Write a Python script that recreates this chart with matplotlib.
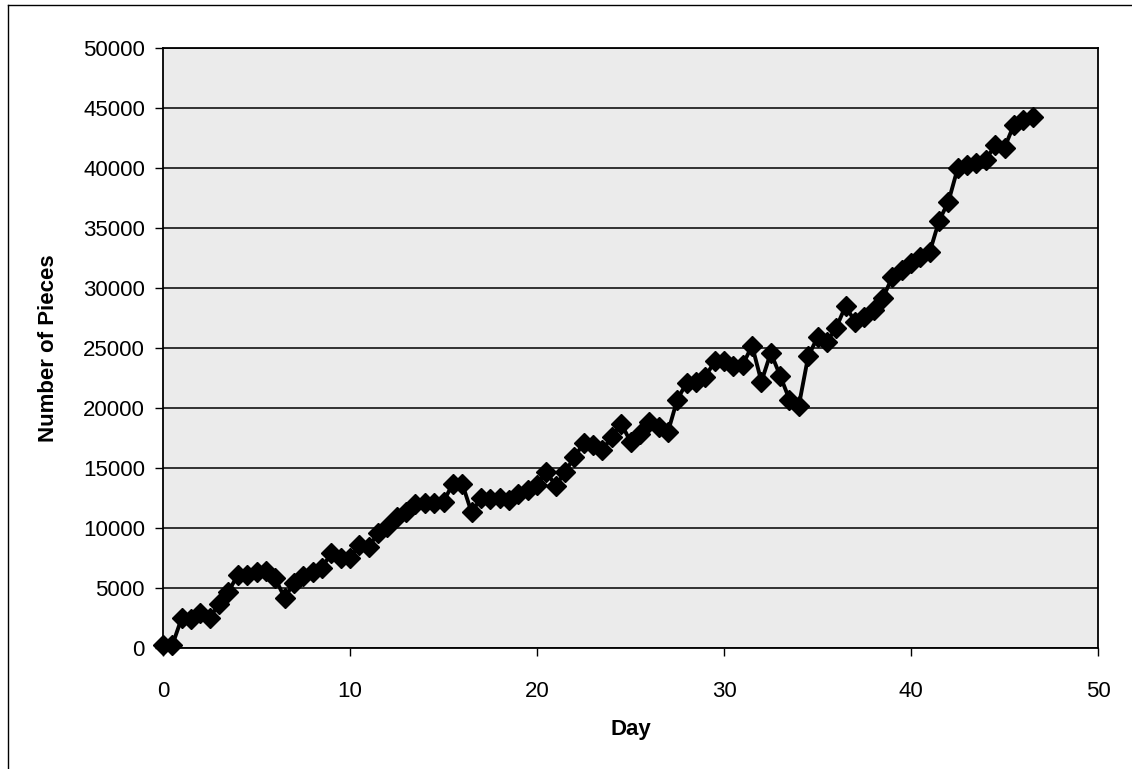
import numpy as np
import matplotlib.pyplot as plt
from matplotlib.lines import Line2D

plt.rcParams['font.family'] = ['Liberation Sans', 'DejaVu Sans']

# counts taken twice a day
day = np.arange(0, 47, 0.5)
pieces = [250, 250, 2500, 2400, 2900, 2500, 3700, 4700, 6100, 6100,
          6300, 6400, 5800, 4200, 5400, 6000, 6300, 6700, 7900, 7500,
          7500, 8600, 8400, 9600, 10100, 10900, 11300, 12000, 12100, 12100,
          12200, 13700, 13700, 11300, 12500, 12400, 12500, 12300, 12800, 13200,
          13600, 14700, 13500, 14700, 15900, 17100, 16900, 16500, 17600, 18700,
          17200, 17800, 18800, 18400, 18000, 20700, 22100, 22200, 22600, 23900,
          23900, 23500, 23600, 25200, 22200, 24600, 22700, 20700, 20200, 24300,
          25900, 25500, 26700, 28500, 27200, 27600, 28200, 29200, 30900, 31500,
          32100, 32600, 33000, 35600, 37200, 40000, 40250, 40400, 40700, 41900,
          41700, 43600, 44000, 44250]

fig = plt.figure(figsize=(11.32, 7.69), dpi=100)
ax = fig.add_axes([0.144, 0.1573, 0.826, 0.7803])
ax.set_facecolor('#ebebeb')

ax.plot(day, pieces, color='black', lw=2.8, marker='D', ms=10,
        markerfacecolor='black', markeredgecolor='black', clip_on=False, zorder=3)

ax.set_xlim(0, 50)
ax.set_ylim(0, 50000)
ax.set_xticks(np.arange(0, 51, 10))
ax.set_yticks(np.arange(0, 50001, 5000))
ax.yaxis.grid(True, color='black', lw=1.1)
ax.set_axisbelow(True)
for s in ax.spines.values():
    s.set_color('black')
    s.set_linewidth(1.3)
ax.tick_params(axis='both', labelsize=16, length=6, width=1, color='black', pad=7)
ax.tick_params(axis='x', pad=18, direction='out')

ax.set_xlabel('Day', fontsize=16, fontweight='bold', labelpad=12)
ax.set_ylabel('Number of Pieces', fontsize=16, fontweight='bold', labelpad=17)

# chart frame on the left and top
fig.add_artist(Line2D([0.007, 0.007], [0.0, 0.994], color='black', lw=1.0, transform=fig.transFigure))
fig.add_artist(Line2D([0.007, 1.0], [0.994, 0.994], color='black', lw=1.0, transform=fig.transFigure))

fig.savefig('out.png', dpi=100)
